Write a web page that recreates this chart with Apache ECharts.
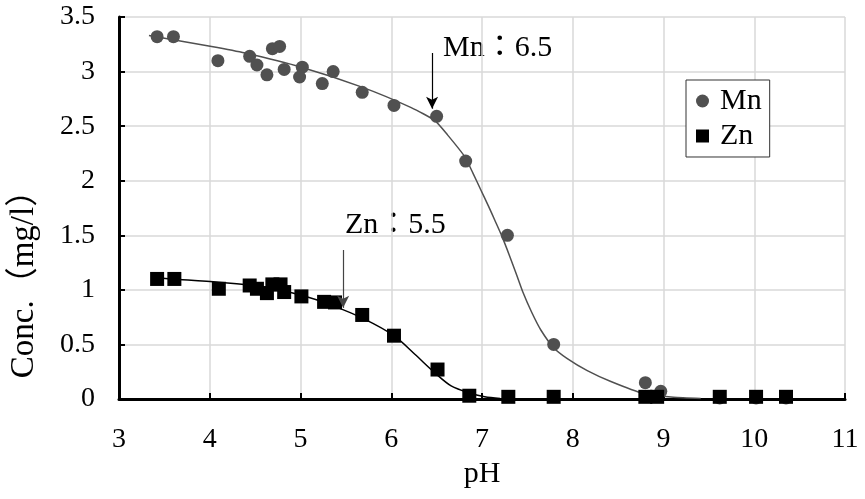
<!DOCTYPE html>
<html>
<head>
<meta charset="utf-8">
<script src="https://cdn.jsdelivr.net/npm/echarts@6/dist/echarts.min.js"></script>
<style>
html,body{margin:0;padding:0;background:#fff;}
#c{width:865px;height:499px;}
</style>
</head>
<body>
<div id="c"></div>
<script>
// Measured points: [pH, concentration mg/l]
const mnPoints = [
  [3.42,3.32],[3.60,3.32],[4.09,3.10],[4.44,3.14],[4.52,3.06],[4.63,2.97],
  [4.69,3.21],[4.77,3.23],[4.82,3.02],[5.02,3.04],[4.99,2.95],[5.24,2.89],
  [5.36,3.00],[5.68,2.81],[6.03,2.69],[6.50,2.59],[6.82,2.18],[7.28,1.50],
  [7.79,0.50],[8.80,0.15],[8.97,0.07],[9.62,0.01],[10.02,0.01],[10.35,0.01]
];
const znPoints = [
  [3.42,1.10],[3.61,1.10],[4.10,1.01],[4.44,1.04],[4.52,1.01],[4.63,0.97],
  [4.69,1.05],[4.78,1.05],[4.82,0.98],[5.01,0.94],[5.26,0.89],[5.38,0.885],
  [5.68,0.77],[6.03,0.58],[6.51,0.27],[6.86,0.03],[7.29,0.02],[7.79,0.02],
  [8.80,0.02],[8.93,0.02],[9.62,0.02],[10.02,0.02],[10.35,0.02]
];
// Fitted curves
const mnCurve = [
  [3.33,3.33],[4.02,3.23],[4.39,3.17],[5.01,3.04],[5.67,2.86],[6.22,2.67],
  [6.48,2.55],[6.62,2.42],[6.81,2.22],[6.90,2.07],[6.99,1.91],[7.07,1.77],
  [7.14,1.64],[7.22,1.49],[7.30,1.32],[7.38,1.14],[7.45,0.98],[7.55,0.79],
  [7.65,0.63],[7.79,0.47],[7.94,0.37],[8.16,0.26],[8.42,0.16],[8.78,0.05],
  [9.11,0.015],[9.41,0.005]
];
const znCurve = [
  [3.42,1.11],[3.58,1.10],[4.10,1.07],[4.57,1.03],[5.01,0.95],[5.34,0.86],
  [5.71,0.73],[6.03,0.58],[6.26,0.41],[6.48,0.24],[6.66,0.12],[6.88,0.05],
  [7.03,0.02],[7.20,0.005]
];
const mnArrow = [[6.45,3.17],[6.45,2.66]];
const znArrow = [[5.47,1.365],[5.47,0.835]];
const xTicks = {min:3, max:11, interval:1};
const yTicks = {min:0, max:3.5, interval:0.5};

const FONT = '"Liberation Serif","DejaVu Serif","Noto Sans CJK JP",serif';
const FS_TICK = 28;
const FS_TEXT = 30;
const FS_YNAME = 33;

const chart = echarts.init(document.getElementById('c'), null, {renderer:'canvas'});
chart.setOption({
  animation:false,
  backgroundColor:'#fff',
  textStyle:{fontFamily:FONT},
  grid:{left:117,right:20,top:17,bottom:100,containLabel:false},
  legend:{
    data:['Mn','Zn'], orient:'vertical', left:686, top:80,
    padding:[6,8,6,10], itemGap:5, itemWidth:13, itemHeight:13,
    borderColor:'#333', borderWidth:1, backgroundColor:'#fff', borderRadius:0,
    textStyle:{fontFamily:FONT,fontSize:FS_TEXT,color:'#000',padding:[0,0,0,6]}
  },
  xAxis:{
    type:'value', min:xTicks.min, max:xTicks.max, interval:xTicks.interval,
    name:'pH', nameLocation:'middle', nameGap:57,
    nameTextStyle:{fontFamily:FONT,fontSize:FS_TEXT,color:'#000'},
    axisLine:{show:true,onZero:false,lineStyle:{color:'#000',width:3}},
    axisTick:{show:true,inside:true,length:6,lineStyle:{color:'#000',width:2}},
    axisLabel:{fontFamily:FONT,fontSize:FS_TICK,color:'#000',margin:27},
    splitLine:{show:true,lineStyle:{color:'#d9d9d9',width:1.5}}
  },
  yAxis:{
    type:'value', min:yTicks.min, max:yTicks.max, interval:yTicks.interval,
    name:'Conc.（mg/l）', nameLocation:'middle', nameGap:78, nameRotate:90,
    nameTextStyle:{fontFamily:FONT,fontSize:FS_YNAME,color:'#000',padding:[0,136,0,0]},
    axisLine:{show:true,lineStyle:{color:'#000',width:3}},
    axisTick:{show:true,inside:true,length:6,lineStyle:{color:'#000',width:2}},
    axisLabel:{fontFamily:FONT,fontSize:FS_TICK,color:'#000',margin:24},
    splitLine:{show:true,lineStyle:{color:'#d9d9d9',width:1.5}}
  },
  series:[
    {name:'Mn fit',type:'line',data:mnCurve,smooth:0.2,showSymbol:false,
     lineStyle:{color:'#505050',width:1.5},itemStyle:{color:'#505050'},z:2,silent:true,
     markLine:{silent:true,symbol:['none','arrow'],symbolSize:[9,12],
       label:{show:false},lineStyle:{color:'#000',width:1.2,type:'solid'},
       data:[[{coord:mnArrow[0]},{coord:mnArrow[1]}]]}},
    {name:'Zn fit',type:'line',data:znCurve,smooth:0.3,showSymbol:false,
     lineStyle:{color:'#000',width:1.5},itemStyle:{color:'#000'},z:2,silent:true,
     markLine:{silent:true,symbol:['none','arrow'],symbolSize:[9,12],
       label:{show:false},lineStyle:{color:'#444',width:1.2,type:'solid'},
       data:[[{coord:znArrow[0]},{coord:znArrow[1]}]]}},
    {name:'Mn',type:'scatter',data:mnPoints,symbol:'circle',symbolSize:13,
     itemStyle:{color:'#505050',opacity:1},z:3,clip:false},
    {name:'Zn',type:'scatter',data:znPoints,symbol:'rect',symbolSize:14,
     itemStyle:{color:'#000',opacity:1},z:4,clip:false}
  ],
  graphic:[
    {type:'text',left:443,top:33,style:{text:'Mn：6.5',font:FS_TEXT+'px '+FONT,fill:'#000'}},
    {type:'text',left:345,top:210,style:{text:'Zn：5.5',font:FS_TEXT+'px '+FONT,fill:'#000'}}
  ]
});
</script>
</body>
</html>
